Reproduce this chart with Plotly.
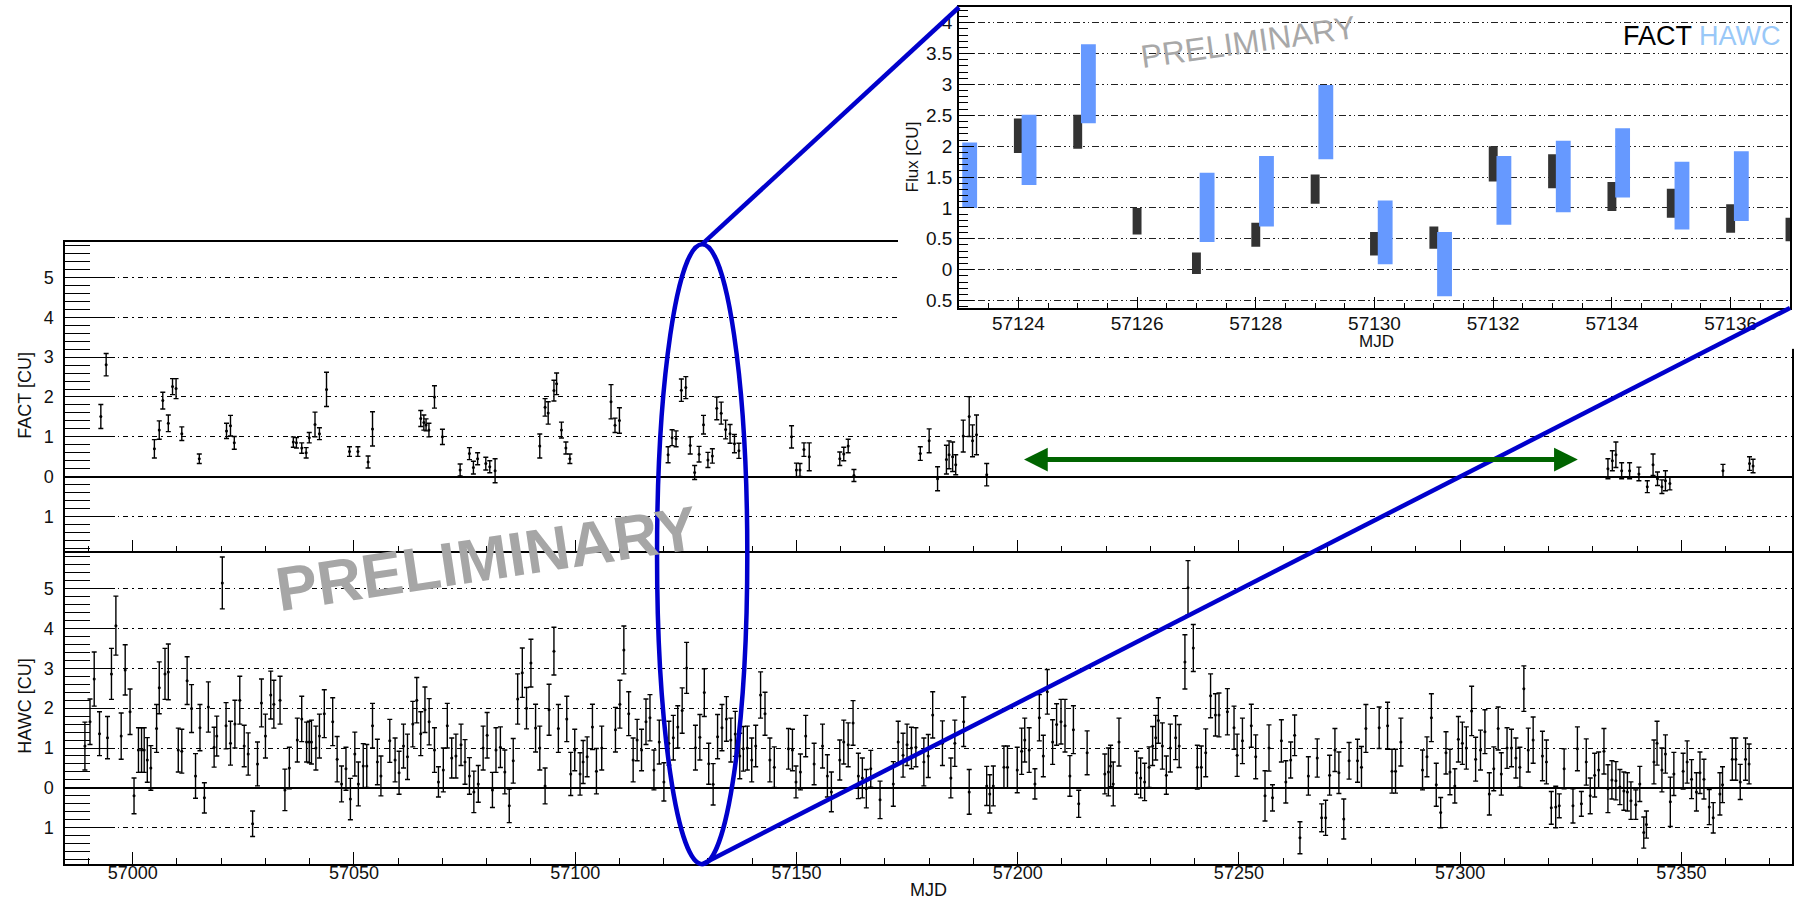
import plotly.graph_objects as go

# ---------------- data ----------------
fact_mjd = [56992.8, 56994.0, 57004.9, 57006.0, 57006.8, 57008.05, 57009.0, 57009.8, 57011.1, 57015.05,
            57021.2, 57022.1, 57022.96, 57036.3, 57037.0, 57038.2, 57039.2, 57039.9, 57041.2, 57042.2,
            57043.8, 57049.0, 57050.9, 57053.2, 57054.2, 57065.1, 57065.8, 57066.3, 57066.95, 57068.2,
            57070.0, 57074.0, 57076.1, 57077.0, 57077.95, 57079.8, 57080.7, 57081.9, 57092.0, 57093.2,
            57093.9, 57095.2, 57095.8, 57096.9, 57097.9, 57098.8, 57108.1, 57109.0, 57110.0, 57121.0,
            57121.9, 57122.8, 57124.0, 57125.0, 57126.0, 57127.0, 57128.0, 57129.0, 57130.0, 57131.0,
            57132.0, 57133.0, 57134.0, 57135.0, 57136.0, 57137.0, 57148.9, 57150.0, 57150.8, 57151.7,
            57152.9, 57159.8, 57160.7, 57161.7, 57163.0, 57178.0, 57180.0, 57181.9, 57183.9, 57184.5,
            57185.3, 57186.0, 57187.7, 57189.05, 57189.8, 57190.7, 57193.0, 57333.4, 57334.4, 57335.2,
            57336.5, 57338.3, 57340.4, 57342.3, 57343.6, 57344.6, 57345.6, 57346.4, 57347.4, 57359.4,
            57365.4, 57366.2]
fact_flux = [1.51, 2.81, 0.70, 1.17, 1.91, 1.34, 2.26, 2.21, 1.08, 0.45,
             1.15, 1.28, 0.85, 0.87, 0.85, 0.72, 0.60, 0.98, 1.31, 1.08,
             2.19, 0.63, 0.63, 0.37, 1.20, 1.46, 1.36, 1.30, 1.17, 2.00,
             1.00, 0.17, 0.58, 0.23, 0.45, 0.33, 0.25, 0.15, 0.77, 1.74,
             1.60, 2.16, 2.33, 1.17, 0.72, 0.45, 1.88, 1.29, 1.41, 0.55,
             0.98, 0.95, 2.17, 2.235, 0.785, 0.105, 0.565, 1.305, 0.42, 0.52,
             1.715, 1.595, 1.185, 1.075, 0.83, 0.65, 1.00, 0.17, 0.17, 0.68,
             0.50, 0.45, 0.57, 0.77, 0.03, 0.58, 0.90, -0.05, 0.43, 0.55,
             0.50, 0.30, 1.02, 1.51, 0.90, 1.05, 0.05, 0.20, 0.40, 0.55,
             0.15, 0.15, 0.07, -0.25, 0.30, -0.05, -0.25, -0.10, -0.17, 0.15,
             0.33, 0.27]
fact_err = [0.30, 0.28, 0.23, 0.23, 0.21, 0.21, 0.20, 0.25, 0.17, 0.12,
            0.19, 0.26, 0.16, 0.13, 0.13, 0.13, 0.13, 0.13, 0.31, 0.15,
            0.43, 0.12, 0.12, 0.15, 0.43, 0.20, 0.19, 0.15, 0.17, 0.28,
            0.19, 0.15, 0.15, 0.16, 0.15, 0.16, 0.15, 0.30, 0.30, 0.22,
            0.28, 0.26, 0.27, 0.20, 0.15, 0.12, 0.43, 0.18, 0.32, 0.20,
            0.20, 0.20, 0.28, 0.275, 0.215, 0.175, 0.195, 0.235, 0.19, 0.18,
            0.285, 0.275, 0.235, 0.235, 0.23, 0.19, 0.28, 0.17, 0.16, 0.17,
            0.35, 0.17, 0.17, 0.17, 0.15, 0.17, 0.30, 0.30, 0.36, 0.35,
            0.37, 0.25, 0.40, 0.50, 0.40, 0.50, 0.28, 0.25, 0.25, 0.32,
            0.20, 0.20, 0.17, 0.15, 0.27, 0.17, 0.17, 0.25, 0.16, 0.16,
            0.17, 0.17]

hawc_mjd = [56989.2, 56990.35, 56991.3, 56992.5, 56994.3, 56995.2, 56996.2, 56997.4, 56998.3, 56999.4,
            57000.3, 57001.3, 57002.0, 57002.6, 57003.3, 57004.1, 57005.4, 57006.0, 57007.3, 57008.05,
            57010.3, 57011.1, 57012.3, 57013.3, 57014.2, 57015.2, 57016.2, 57017.1, 57018.4, 57019.0,
            57020.25, 57021.1, 57022.1, 57023.1, 57024.2, 57025.2, 57026.1, 57027.1, 57028.2, 57029.1,
            57030.0, 57031.2, 57031.9, 57033.3, 57034.4, 57035.4, 57037.2, 57038.2, 57039.3, 57039.9,
            57040.4, 57041.4, 57042.2, 57043.3, 57045.2, 57046.2, 57047.2, 57048.2, 57049.2, 57050.2,
            57051.0, 57052.1, 57052.9, 57054.2, 57055.3, 57056.1, 57058.1, 57059.3, 57060.2, 57061.2,
            57062.1, 57063.3, 57064.2, 57065.1, 57066.05, 57067.0, 57068.2, 57069.1, 57070.2, 57071.1,
            57072.1, 57073.05, 57074.2, 57075.1, 57076.1, 57077.1, 57078.1, 57079.2, 57080.1, 57081.3,
            57082.1, 57083.1, 57084.1, 57085.1, 57086.0, 57087.0, 57088.05, 57089.0, 57090.0, 57091.05,
            57092.0, 57093.2, 57094.1, 57095.2, 57096.2, 57098.1, 57099.0, 57099.9, 57101.1, 57101.8,
            57102.7, 57103.9, 57104.8, 57106.0, 57109.1, 57110.1, 57111.0, 57112.1, 57113.1, 57114.0,
            57115.0, 57116.0, 57116.9, 57117.8, 57119.0, 57120.05, 57121.18, 57122.18, 57123.18, 57124.18,
            57125.18, 57127.18, 57128.18, 57129.18, 57130.18, 57131.18, 57132.18, 57133.18, 57134.18, 57135.18,
            57136.18, 57137.2, 57138.0, 57138.9, 57139.9, 57140.8, 57141.9, 57142.9, 57144.0, 57145.0,
            57148.2, 57149.1, 57149.9, 57150.9, 57152.1, 57154.0, 57155.9, 57157.0, 57157.9, 57159.8,
            57160.7, 57161.7, 57162.8, 57164.0, 57164.9, 57165.8, 57166.8, 57168.9, 57171.9, 57173.0,
            57174.1, 57175.0, 57176.0, 57177.0, 57178.8, 57179.8, 57180.8, 57183.0, 57184.9, 57185.8,
            57187.8, 57189.05, 57193.0, 57193.7, 57194.5, 57196.9, 57197.7, 57199.9, 57200.9, 57201.6,
            57202.6, 57203.9, 57204.9, 57205.8, 57206.7, 57207.9, 57208.8, 57209.8, 57210.7, 57211.8,
            57212.6, 57213.8, 57215.7, 57219.7, 57220.5, 57221.0, 57221.6, 57222.9, 57226.9, 57227.8,
            57228.7, 57229.7, 57230.5, 57231.2, 57231.8, 57232.7, 57233.6, 57234.5, 57235.7, 57236.5,
            57237.8, 57238.5, 57239.7, 57240.6, 57241.5, 57242.5, 57243.6, 57244.7, 57245.5, 57247.4,
            57248.9, 57249.6, 57250.8, 57252.8, 57253.8, 57255.9, 57256.8, 57257.6, 57259.6, 57260.6,
            57261.7, 57262.6, 57263.8, 57265.7, 57267.7, 57268.7, 57269.6, 57270.5, 57271.7, 57272.6,
            57273.7, 57274.9, 57276.8, 57277.7, 57278.7, 57281.7, 57283.6, 57284.6, 57285.4, 57286.6,
            57291.5, 57292.5, 57293.5, 57294.6, 57295.6, 57296.8, 57297.7, 57298.8, 57299.6, 57300.5,
            57301.4, 57302.6, 57303.5, 57304.6, 57305.6, 57306.6, 57307.6, 57308.6, 57309.3, 57310.6,
            57311.6, 57312.6, 57313.5, 57314.4, 57315.4, 57316.5, 57318.6, 57319.5, 57320.6, 57321.6,
            57322.4, 57323.5, 57325.5, 57326.5, 57327.4, 57328.5, 57329.4, 57330.4, 57331.3, 57332.5,
            57333.4, 57334.3, 57335.2, 57336.1, 57337.0, 57337.8, 57338.6, 57339.7, 57340.6, 57341.5,
            57342.1, 57343.8, 57344.5, 57345.6, 57346.4, 57347.5, 57348.3, 57350.4, 57351.3, 57352.3,
            57353.4, 57354.2, 57355.1, 57356.3, 57357.2, 57358.7, 57359.3, 57361.5, 57362.3, 57363.3,
            57364.5, 57365.3]
hawc_flux = [1.05, 1.66, 2.73, 1.36, 1.26, 2.86, 4.07, 1.30, 2.96, 1.91,
             -0.20, 0.95, 0.95, 0.95, 0.70, 0.50, 1.49, 2.51, 2.86, 2.91,
             0.95, 0.92, 2.69, 1.99, 0.30, 1.51, -0.25, 2.03, 1.02, 1.30,
             5.14, 1.56, 1.12, 1.60, 2.20, 1.05, 0.85, -0.90, 0.60, 2.13,
             1.30, 2.33, 2.10, 2.20, -0.05, 0.50, 1.20, 1.73, 1.15, 1.15,
             1.15, 1.00, 1.30, 1.86, 1.66, 0.72, 0.10, 0.48, -0.28, 0.85,
             0.10, 0.55, 0.55, 1.56, 0.65, 0.30, 1.18, 0.70, 0.38, 1.05,
             0.78, 1.60, 2.20, 1.36, 1.96, 1.66, 0.95, 0.15, 0.45, 1.56,
             0.75, 0.80, 1.08, 0.65, 0.30, -0.10, 0.10, 1.00, 1.32, -0.05,
             0.95, 1.02, 0.40, -0.45, 0.68, 2.23, 2.89, 2.00, 3.13, 1.50,
             1.00, 0.05, 1.96, 3.43, 1.49, 1.73, 0.35, 0.95, 0.35, 0.65,
             0.78, 1.53, 0.42, 1.00, 1.46, 2.10, 3.46, 1.86, 0.70, 1.20,
             0.95, 1.66, 1.76, 0.45, 1.15, 0.15, 1.12, 1.26, 1.53, 1.94,
             3.01, 1.01, 1.27, 2.39, 0.605, 0.09, 1.285, 1.51, 1.73, 1.20,
             1.355, 0.80, 0.98, 1.00, 0.70, 1.05, 2.33, 1.86, 0.70, 0.52,
             0.98, 0.95, 0.15, 0.40, 1.30, 0.60, 1.05, 0.30, -0.10, 0.70,
             1.15, 1.08, 1.63, 0.30, 0.25, -0.02, 0.48, -0.30, 0.10, 1.15,
             0.82, 1.08, 1.00, 1.02, 0.65, 0.80, 1.83, 1.12, 0.25, 1.12,
             1.66, -0.10, 0.05, -0.15, 0.05, 0.52, 0.52, 0.45, 0.92, 1.20,
             0.95, 0.10, 1.76, 0.80, 2.41, 1.15, 1.59, 1.66, 1.56, 0.30,
             1.46, -0.40, 0.88, 0.35, 0.40, 0.55, 0.10, 1.15, 0.38, 0.25,
             0.15, 0.52, 1.05, 1.26, 1.69, 1.05, 0.32, 1.00, 1.26, 1.05,
             3.16, 5.02, 3.51, 0.52, 0.52, 0.88, 2.31, 1.83, 1.83, 1.91,
             1.51, 0.82, 1.18, 1.56, 0.78, -0.20, 1.00, -0.25, 1.18, 0.15,
             0.70, 1.32, -1.25, 0.30, 0.75, -0.75, -0.75, 0.32, 0.95, 0.38,
             -0.78, 0.68, 0.68, 0.52, 1.49, 1.51, 1.56, 0.42, 0.42, 1.15,
             0.45, 0.78, 1.76, 0.08, -0.62, 0.88, 0.40, 0.05, 1.22, 1.12,
             1.00, 1.93, 0.72, 0.95, 1.41, -0.15, 0.48, 1.49, 0.35, 1.00,
             1.00, 0.75, 0.52, 2.49, 0.95, 1.20, 0.80, 0.65, -0.50, -0.48,
             -0.45, 0.48, -0.45, 0.98, -0.40, 0.65, -0.20, 0.32, 0.45, 0.92,
             -0.02, 0.20, 0.18, 0.02, -0.08, -0.10, -0.32, -0.42, 0.10, -1.12,
             -0.92, 0.65, 1.12, 0.45, 0.85, -0.35, 0.35, 0.42, 0.65, 0.22,
             -0.10, 0.38, 0.22, -0.48, -0.75, -0.15, 0.08, 0.72, 0.72, 0.15,
             0.72, 0.60]
hawc_err = [0.60, 0.57, 0.68, 0.55, 0.53, 0.64, 0.74, 0.58, 0.63, 0.57,
            0.45, 0.56, 0.56, 0.56, 0.56, 0.56, 0.60, 0.65, 0.64, 0.70,
            0.55, 0.55, 0.60, 0.60, 0.56, 0.58, 0.38, 0.63, 0.50, 0.50,
            0.65, 0.58, 0.55, 0.60, 0.60, 0.52, 0.53, 0.32, 0.55, 0.60,
            0.55, 0.60, 0.60, 0.60, 0.52, 0.52, 0.55, 0.57, 0.50, 0.52,
            0.55, 0.55, 0.55, 0.60, 0.60, 0.57, 0.45, 0.54, 0.52, 0.55,
            0.55, 0.56, 0.54, 0.56, 0.57, 0.50, 0.54, 0.55, 0.54, 0.55,
            0.57, 0.57, 0.57, 0.55, 0.57, 0.58, 0.56, 0.38, 0.55, 0.56,
            0.50, 0.55, 0.52, 0.56, 0.46, 0.52, 0.46, 0.55, 0.57, 0.44,
            0.56, 0.51, 0.55, 0.42, 0.56, 0.63, 0.62, 0.52, 0.60, 0.60,
            0.55, 0.45, 0.64, 0.60, 0.60, 0.57, 0.54, 0.52, 0.53, 0.54,
            0.50, 0.57, 0.57, 0.55, 0.56, 0.60, 0.60, 0.55, 0.55, 0.52,
            0.52, 0.57, 0.58, 0.50, 0.55, 0.48, 0.55, 0.56, 0.53, 0.57,
            0.64, 0.56, 0.57, 0.60, 0.515, 0.52, 0.555, 0.58, 0.56, 0.55,
            0.565, 0.57, 0.56, 0.55, 0.55, 0.52, 0.58, 0.54, 0.55, 0.51,
            0.51, 0.52, 0.40, 0.45, 0.52, 0.52, 0.55, 0.53, 0.50, 0.50,
            0.55, 0.55, 0.56, 0.57, 0.50, 0.48, 0.46, 0.47, 0.56, 0.52,
            0.55, 0.52, 0.52, 0.49, 0.60, 0.54, 0.58, 0.56, 0.50, 0.58,
            0.62, 0.56, 0.49, 0.48, 0.50, 0.53, 0.53, 0.57, 0.58, 0.55,
            0.56, 0.38, 0.58, 0.52, 0.56, 0.56, 0.52, 0.56, 0.66, 0.51,
            0.60, 0.34, 0.55, 0.50, 0.60, 0.52, 0.55, 0.60, 0.54, 0.50,
            0.47, 0.51, 0.49, 0.56, 0.57, 0.58, 0.48, 0.60, 0.55, 0.54,
            0.68, 0.68, 0.59, 0.55, 0.53, 0.60, 0.55, 0.53, 0.55, 0.58,
            0.54, 0.53, 0.57, 0.54, 0.55, 0.63, 0.58, 0.33, 0.53, 0.53,
            0.45, 0.51, 0.40, 0.48, 0.48, 0.35, 0.44, 0.50, 0.54, 0.52,
            0.50, 0.46, 0.54, 0.52, 0.60, 0.52, 0.59, 0.55, 0.55, 0.60,
            0.50, 0.50, 0.60, 0.54, 0.38, 0.53, 0.57, 0.43, 0.57, 0.53,
            0.53, 0.62, 0.55, 0.50, 0.55, 0.53, 0.55, 0.54, 0.53, 0.51,
            0.47, 0.50, 0.50, 0.57, 0.55, 0.58, 0.62, 0.55, 0.41, 0.52,
            0.30, 0.50, 0.43, 0.55, 0.31, 0.58, 0.45, 0.55, 0.45, 0.57,
            0.60, 0.48, 0.48, 0.44, 0.48, 0.48, 0.47, 0.37, 0.44, 0.39,
            0.34, 0.55, 0.55, 0.55, 0.48, 0.62, 0.54, 0.45, 0.53, 0.49,
            0.48, 0.52, 0.50, 0.44, 0.38, 0.53, 0.45, 0.53, 0.53, 0.44,
            0.53, 0.50]

main_xtick_vals = [57000, 57050, 57100, 57150, 57200, 57250, 57300, 57350]
main_ytick_vals = [-1, 0, 1, 2, 3, 4, 5]
main_ytick_text = ["1", "0", "1", "2", "3", "4", "5"]
inset_xtick_vals = [57124, 57126, 57128, 57130, 57132, 57134, 57136]
inset_ytick_vals = [-0.5, 0, 0.5, 1, 1.5, 2, 2.5, 3, 3.5, 4]
inset_ytick_text = ["0.5", "0", "0.5", "1", "1.5", "2", "2.5", "3", "3.5", "4"]

# ---------------- layout geometry ----------------
W, H = 1799, 911
def px(p):
    return p / W
def py(p):
    return 1 - p / H

main_xrange = [56984.7, 57375.0]
fact_yrange = [-1.875, 5.89]
hawc_yrange = [-1.905, 5.93]
inset_xrange = [57123, 57137]
inset_yrange = [-0.62, 4.25]

main_xdom = [px(65), px(1792)]
split = py(553.3)
fact_ydom = [split, py(242.7)]
hawc_ydom = [py(866.7), split]
inset_xdom = [px(959), px(1790)]
inset_ydom = [py(309), py(7.3)]
cover_xdom = [px(898), 1.0]
cover_ydom = [py(350), 1.0]

def mjd_to_paper(m):
    return main_xdom[0] + (m - main_xrange[0]) / (main_xrange[1] - main_xrange[0]) * (main_xdom[1] - main_xdom[0])

FONT = "Liberation Sans, Arial, Helvetica, sans-serif"
BLUE = "#0000cc"
GREEN = "#006400"
FACT_BAR = "#333333"
HAWC_BAR = "#6699ff"

fig = go.Figure()

fig.add_trace(go.Scatter(
    x=fact_mjd, y=fact_flux, mode="markers", xaxis="x", yaxis="y",
    marker=dict(color="black", size=3),
    error_y=dict(type="data", array=fact_err, color="black", thickness=1.4, width=2.5),
    hoverinfo="skip"))
fig.add_trace(go.Scatter(
    x=hawc_mjd, y=hawc_flux, mode="markers", xaxis="x2", yaxis="y2",
    marker=dict(color="black", size=3),
    error_y=dict(type="data", array=hawc_err, color="black", thickness=1.4, width=2.5),
    hoverinfo="skip"))

# white cover panel behind the inset
fig.add_trace(go.Scatter(x=[0], y=[0], mode="markers", marker=dict(opacity=0),
                         xaxis="x3", yaxis="y3", hoverinfo="skip"))

# inset: same data, zoomed, drawn as bars spanning +-1 sigma
sel_f = [i for i, m in enumerate(fact_mjd) if inset_xrange[0] <= m <= inset_xrange[1]]
sel_h = [i for i, m in enumerate(hawc_mjd) if inset_xrange[0] <= m <= inset_xrange[1]]
fig.add_trace(go.Bar(
    x=[fact_mjd[i] for i in sel_f],
    y=[2 * fact_err[i] for i in sel_f],
    base=[fact_flux[i] - fact_err[i] for i in sel_f],
    width=0.15, marker=dict(color=FACT_BAR, line=dict(width=0)),
    xaxis="x4", yaxis="y4", hoverinfo="skip"))
fig.add_trace(go.Bar(
    x=[hawc_mjd[i] for i in sel_h],
    y=[2 * hawc_err[i] for i in sel_h],
    base=[hawc_flux[i] - hawc_err[i] for i in sel_h],
    width=0.25, marker=dict(color=HAWC_BAR, line=dict(width=0)),
    xaxis="x4", yaxis="y4", hoverinfo="skip"))

grid_dash = "5px,4px,1.5px,4px"
main_x_common = dict(
    range=main_xrange, domain=main_xdom, tickvals=main_xtick_vals, tickformat="d",
    ticks="inside", ticklen=12, tickwidth=1.2, tickcolor="black",
    minor=dict(dtick=10, tick0=57000, ticks="inside", ticklen=6, tickwidth=1.2, tickcolor="black"),
    showline=True, linecolor="black", linewidth=1.5,
    showgrid=False, zeroline=False,
    tickfont=dict(family=FONT, size=18, color="#111111"))
main_y_common = dict(
    tickvals=main_ytick_vals, ticktext=main_ytick_text,
    ticks="inside", ticklen=50, tickwidth=1.4, tickcolor="black",
    minor=dict(dtick=0.2, tick0=0, ticks="inside", ticklen=25, tickwidth=1.2, tickcolor="black"),
    showline=True, linecolor="black", linewidth=1.5, mirror=True,
    showgrid=True, gridcolor="black", gridwidth=1, griddash=grid_dash,
    zeroline=True, zerolinecolor="black", zerolinewidth=1.5,
    ticklabelstandoff=6,
    tickfont=dict(family=FONT, size=18, color="#111111"))

fig.update_layout(
    width=W, height=H, margin=dict(l=0, r=0, t=0, b=0, pad=0),
    paper_bgcolor="white", plot_bgcolor="white", showlegend=False,
    barmode="overlay",
    xaxis=dict(anchor="y", showticklabels=False, mirror=True, **main_x_common),
    yaxis=dict(anchor="x", domain=fact_ydom, range=fact_yrange, **main_y_common),
    xaxis2=dict(anchor="y2", matches="x", showticklabels=True, mirror=False, ticklabelstandoff=-8,
                **main_x_common),
    yaxis2=dict(anchor="x2", domain=hawc_ydom, range=hawc_yrange, **main_y_common),
    xaxis3=dict(anchor="y3", domain=cover_xdom, range=[0, 1], visible=False),
    yaxis3=dict(anchor="x3", domain=cover_ydom, range=[0, 1], visible=False),
    xaxis4=dict(anchor="y4", domain=inset_xdom, range=inset_xrange,
                tickvals=inset_xtick_vals, tickformat="d",
                ticks="inside", ticklen=11, tickwidth=1.2, tickcolor="black",
                minor=dict(dtick=0.5, tick0=57123, ticks="inside", ticklen=5, tickwidth=1.1, tickcolor="black"),
                showline=True, linecolor="black", linewidth=1.5, mirror=True,
                showgrid=False, zeroline=False, ticklabelstandoff=-3,
                tickfont=dict(family=FONT, size=19, color="#111111")),
    yaxis4=dict(anchor="x4", domain=inset_ydom, range=inset_yrange,
                tickvals=inset_ytick_vals, ticktext=inset_ytick_text,
                ticks="inside", ticklen=15, tickwidth=1.3, tickcolor="black",
                minor=dict(dtick=0.1, tick0=0, ticks="inside", ticklen=9, tickwidth=1.0, tickcolor="black"),
                showline=True, linecolor="black", linewidth=1.5, mirror=True,
                showgrid=True, gridcolor="#222222", gridwidth=1, griddash="7px,3px,1.5px,3px,1.5px,3px",
                zeroline=False, ticklabelstandoff=1,
                tickfont=dict(family=FONT, size=19, color="#111111")),
)

# ---------------- decorations ----------------
ell_x = [57118.5, 57138.9]
ell_top, ell_bot = py(245), py(867)
ell_cx = mjd_to_paper((ell_x[0] + ell_x[1]) / 2)
shapes = [
    dict(type="circle", xref="x", yref="paper", x0=ell_x[0], x1=ell_x[1], y0=ell_bot, y1=ell_top,
         line=dict(color=BLUE, width=4.5), layer="above"),
    dict(type="line", xref="paper", yref="paper", x0=ell_cx, y0=ell_top,
         x1=inset_xdom[0], y1=inset_ydom[1],
         line=dict(color=BLUE, width=4.5), layer="above"),
    dict(type="line", xref="paper", yref="paper", x0=ell_cx, y0=ell_bot,
         x1=inset_xdom[1], y1=inset_ydom[0],
         line=dict(color=BLUE, width=4.5), layer="above"),
]
fig.update_layout(shapes=shapes)

def label(text, x, y, size, angle=0, color="#111111", **kw):
    return dict(text=text, x=px(x), y=py(y), xref="paper", yref="paper", showarrow=False,
                xanchor="center", yanchor="middle", textangle=angle,
                font=dict(family=FONT, size=size, color=color), **kw)

ann = [
    # green gap arrow
    dict(x=57326.6, y=0.43, ax=57201.1, ay=0.43, xref="x", yref="y", axref="x", ayref="y",
         text="", showarrow=True, arrowside="end+start", arrowhead=2, startarrowhead=2,
         arrowsize=0.95, startarrowsize=0.95, arrowwidth=5, arrowcolor=GREEN, standoff=0, startstandoff=0),
    # axis titles
    label("FACT [CU]", 25, 397, 18, -90),
    label("HAWC [CU]", 25, 709, 18, -90),
    label("MJD", 928, 893, 18),
    label("Flux [CU]", 912, 158, 17, -90),
    label("MJD", 1376, 343, 17),
    # watermarks
    label("PRELIMINARY", 1248, 42, 32, -8, color="#a8a8a8"),
    label("<b>PRELIMINARY</b>", 487, 560, 62, -8.5, color="#a6a6a6"),
]
# inset legend
ann.append(dict(text="FACT <span style='color:#99c8f8'>HAWC</span>", x=px(1783), y=py(36),
                xref="paper", yref="paper", xanchor="right", yanchor="middle", showarrow=False,
                font=dict(family=FONT, size=27, color="black")))
fig.update_layout(annotations=ann)

fig.write_html("out.html", config=dict(displayModeBar=False),
               post_script="document.body.style.margin='0';document.body.style.overflow='hidden';")
